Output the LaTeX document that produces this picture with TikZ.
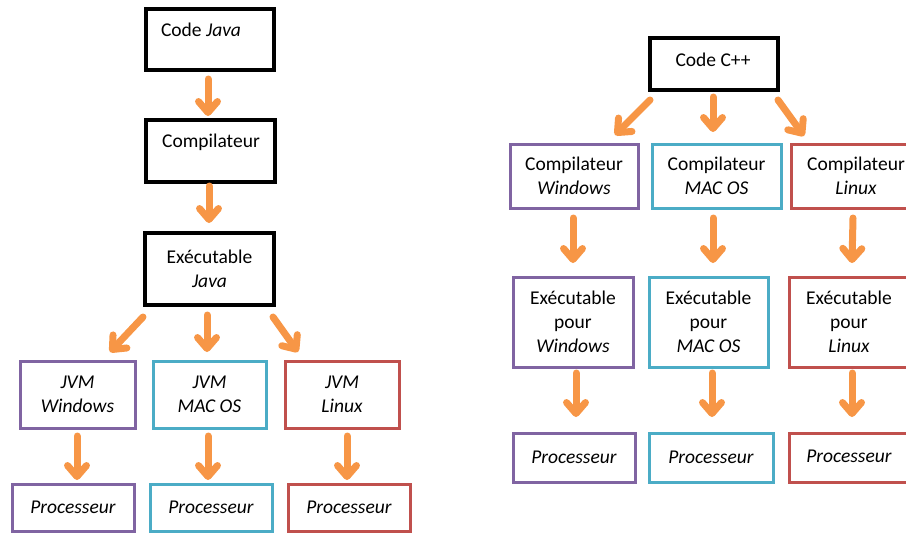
\documentclass[tikz,border=0pt]{standalone}
\usepackage{fontspec}
\setmainfont{Carlito}
\usetikzlibrary{arrows.meta,calc}
\definecolor{cpurple}{HTML}{8064A2}
\definecolor{ccyan}{HTML}{4BACC6}
\definecolor{cred}{HTML}{C0504D}
\definecolor{corange}{HTML}{F79646}
\begin{document}
\begin{tikzpicture}[x=1pt,y=-1pt,
  bx/.style={draw=#1, line width=3pt, inner sep=0pt, outer sep=0pt, anchor=north west,
    align=center, font=\fontsize{19.5}{24}\selectfont},
  bx/.default=black,
  blk/.style={bx=black, line width=3.8pt},
  txt/.style={inner sep=0pt, align=center, font=\fontsize{19.5}{24}\selectfont},
  arr/.style={draw=corange, line width=7pt, line cap=round,
    -{Straight Barb[length=11pt,width=19pt,line cap=round,line join=round]}}]
\useasboundingbox (0,0) rectangle (906,533);
% ---------- Java ----------
\node[blk, minimum width=128pt, minimum height=61pt] (cj) at (146,9) {};
\node[txt] (tcj) at (201,30) {Code \textit{Java}};
\node[blk, minimum width=129pt, minimum height=62pt] (comp) at (146,120) {};
\node[txt] (tcomp) at (211,142) {Compilateur};
\node[blk, minimum width=129pt, minimum height=72pt] (ej) at (145,233) {Exécutable\\\textit{Java}};
\node[bx=cpurple, minimum width=115pt, minimum height=67pt] (jw) at (20,361) {\textit{JVM}\\\textit{Windows}};
\node[bx=ccyan, minimum width=113pt, minimum height=67pt] (jm) at (153,361) {\textit{JVM}\\\textit{MAC OS}};
\node[bx=cred, minimum width=114pt, minimum height=67pt] (jl) at (285,361) {\textit{JVM}\\\textit{Linux}};
\node[bx=cpurple, minimum width=122pt, minimum height=47pt] (pw) at (12,484) {\textit{Processeur}};
\node[bx=ccyan, minimum width=122pt, minimum height=47pt] (pm) at (150,484) {\textit{Processeur}};
\node[bx=cred, minimum width=122pt, minimum height=47pt] (pl) at (288,484) {\textit{Processeur}};
\draw[arr] ($(cj.south)+(-2,9)$) -- ($(comp.north)+(-2.5,-4)$);
\draw[arr] ($(comp.south)+(-1.5,4)$) -- ($(ej.north)+(-0.5,-10)$);
\draw[arr] ($(ej.south west)+(-2,12)$) -- ($(jw.north east)+(-25,-9)$);
\draw[arr] ($(ej.south)+(-2.5,10)$) -- ($(jm.north)+(-2.5,-9)$);
\draw[arr] ($(ej.south east)+(-1,12)$) -- ($(jl.north west)+(13,-9)$);
\draw[arr] ($(jw.south)+(-0.5,8)$) -- ($(pw.north)+(4,-4)$);
\draw[arr] ($(jm.south)+(-1.5,8)$) -- ($(pm.north)+(-3,-4)$);
\draw[arr] ($(jl.south)+(5,8)$) -- ($(pl.north)+(-2,-4)$);
% ---------- C++ ----------
\node[blk, minimum width=128pt, minimum height=52pt] (cc) at (650,38) {};
\node[txt] (tcc) at (713,60) {Code C++};
\node[bx=cpurple, minimum width=128pt, minimum height=64pt] (cw) at (510,144) {Compilateur\\\textit{Windows}};
\node[bx=ccyan, minimum width=129pt, minimum height=64pt] (cm) at (652,144) {Compilateur\\\textit{MAC OS}};
\node[bx=cred, minimum width=130pt, minimum height=64pt] (cl) at (791,144) {};
\node[txt] (tcl) at (856,176) {Compilateur\\\textit{Linux}};
\node[bx=cpurple, minimum width=120pt, minimum height=90pt] (ew) at (513,277) {Exécutable\\pour\\\textit{Windows}};
\node[bx=ccyan, minimum width=119pt, minimum height=90pt] (em) at (649,277) {Exécutable\\pour\\\textit{MAC OS}};
\node[bx=cred, minimum width=126pt, minimum height=90pt] (el) at (789,277) {};
\node[txt] (tel) at (849,322) {Exécutable\\pour\\\textit{Linux}};
\node[bx=cpurple, minimum width=122pt, minimum height=49pt] (pw2) at (513,433) {\textit{Processeur}};
\node[bx=ccyan, minimum width=124pt, minimum height=49pt] (pm2) at (649,433) {\textit{Processeur}};
\node[bx=cred, minimum width=126pt, minimum height=49pt] (pl2) at (789,433) {};
\node[txt] (tpl2) at (849,456) {\textit{Processeur}};
\draw[arr] ($(cc.south west)+(0,10)$) -- ($(cw.north east)+(-23,-9)$);
\draw[arr] ($(cc.south)+(-1,7)$) -- ($(cm.north)+(-3.5,-12)$);
\draw[arr] ($(cc.south east)+(0,10)$) -- ($(cl.north west)+(13,-8)$);
\draw[arr] ($(cw.south)+(-1,10)$) -- ($(ew.north)+(0,-14)$);
\draw[arr] ($(cm.south)+(-3.5,10)$) -- ($(em.north)+(4.5,-14)$);
\draw[arr] ($(cl.south)+(-3,10)$) -- ($(el.north)+(0,-14)$);
\draw[arr] ($(ew.south)+(3,6)$) -- ($(pw2.north)+(2,-16)$);
\draw[arr] ($(em.south)+(3.5,6)$) -- ($(pm2.north)+(1,-16)$);
\draw[arr] ($(el.south)+(0,6)$) -- ($(pl2.north)+(0,-16)$);
\end{tikzpicture}
\end{document}
